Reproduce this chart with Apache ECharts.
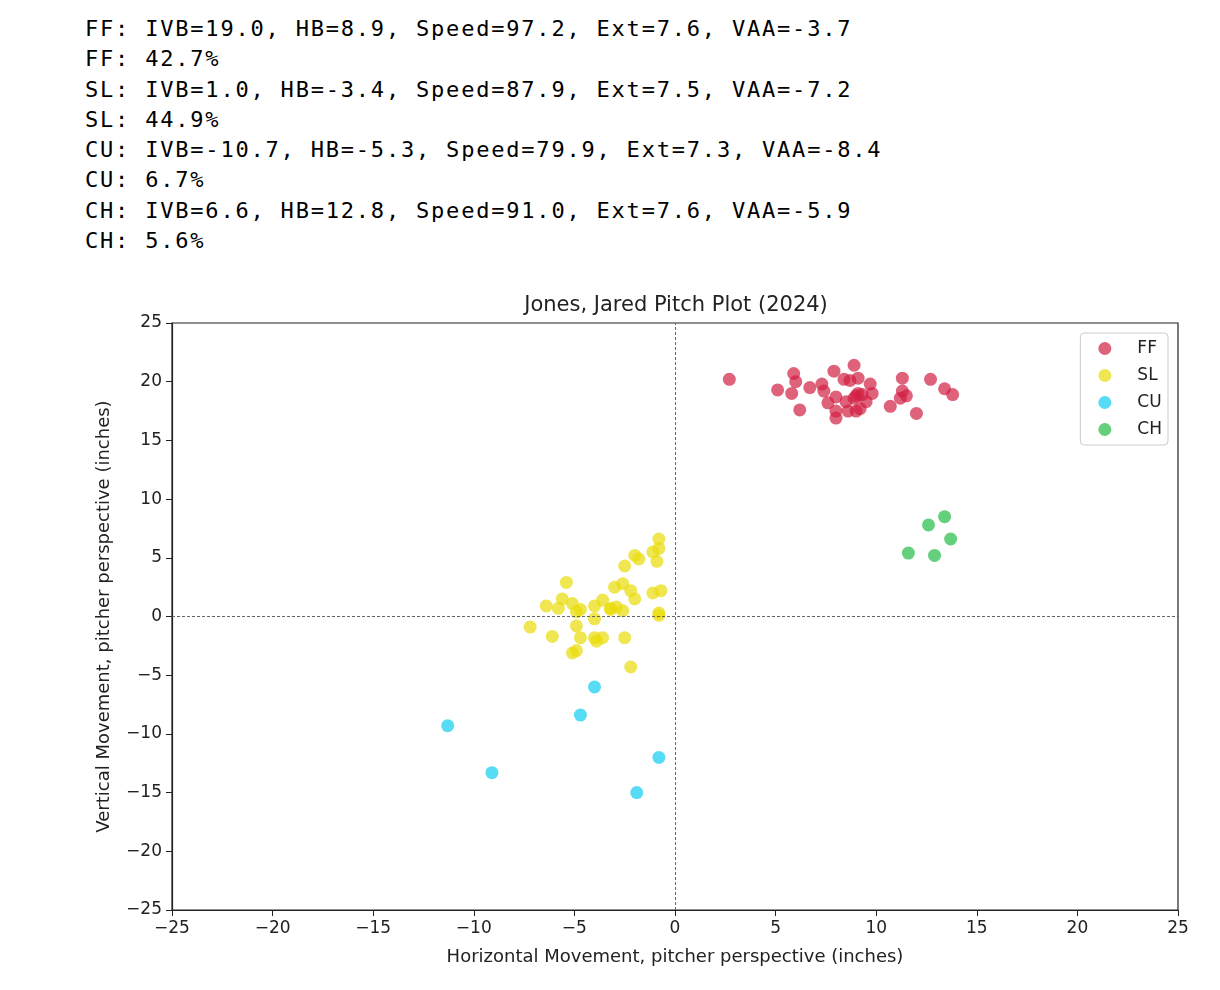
<!DOCTYPE html>
<html>
<head>
<meta charset="utf-8">
<script src="https://cdn.jsdelivr.net/npm/echarts@6/dist/echarts.min.js"></script>
<style>
  body { margin: 0; background: #fff; }
  #summary {
    position: absolute; left: 85px; top: 14px; margin: 0;
    font-family: "DejaVu Sans Mono", monospace; font-size: 22px; letter-spacing: 1.8px;
    line-height: 30.3px; color: #000;
  }
  #chart { position: absolute; left: 0; top: 0; width: 1220px; height: 990px; }
</style>
</head>
<body>
<pre id="summary"></pre>
<div id="chart"></div>
<script>
// summary lines printed above the plot
const summaryLines = [
  'FF: IVB=19.0, HB=8.9, Speed=97.2, Ext=7.6, VAA=-3.7',
  'FF: 42.7%',
  'SL: IVB=1.0, HB=-3.4, Speed=87.9, Ext=7.5, VAA=-7.2',
  'SL: 44.9%',
  'CU: IVB=-10.7, HB=-5.3, Speed=79.9, Ext=7.3, VAA=-8.4',
  'CU: 6.7%',
  'CH: IVB=6.6, HB=12.8, Speed=91.0, Ext=7.6, VAA=-5.9',
  'CH: 5.6%'
]

const pitchTypes = ['FF', 'SL', 'CU', 'CH']
const pitchColors = ['#d21f43', '#e8dc08', '#10cdf2', '#22bb44']

// [horizontal break, induced vertical break]
const ffPoints = [
  [2.7, 20.2], [5.1, 19.3], [5.9, 20.7], [6.0, 20.0], [5.8, 19.0], [6.2, 17.6],
  [6.7, 19.5], [7.3, 19.8], [7.4, 19.2], [7.9, 20.9], [7.6, 18.2], [8.0, 18.7],
  [8.0, 17.5], [8.0, 16.9], [8.4, 20.2], [8.7, 20.1], [8.9, 21.4], [9.1, 20.3],
  [8.5, 18.3], [8.6, 17.5], [9.1, 19.0], [9.3, 18.9], [9.5, 18.3], [9.0, 17.5],
  [9.2, 17.7], [9.7, 19.8], [9.8, 19.0], [10.7, 17.9], [11.3, 20.3], [11.3, 19.2],
  [11.2, 18.6], [11.5, 18.8], [12.0, 17.3], [12.7, 20.2], [13.4, 19.4], [13.8, 18.9],
  [9.0, 18.8], [8.9, 18.6]
]
const slPoints = [
  [-0.8, 6.6], [-1.1, 5.5], [-0.8, 5.8], [-0.9, 4.7], [-2.0, 5.2], [-1.8, 4.9],
  [-2.5, 4.3], [-5.4, 2.9], [-3.0, 2.5], [-2.6, 2.8], [-2.2, 2.2], [-2.0, 1.5],
  [-1.1, 2.0], [-0.7, 2.2], [-5.6, 1.5], [-6.4, 0.9], [-5.8, 0.7], [-5.1, 1.1],
  [-4.7, 0.6], [-4.0, 0.9], [-3.6, 1.4], [-3.2, 0.7], [-3.2, 0.6], [-2.9, 0.8],
  [-2.6, 0.5], [-0.8, 0.3], [-0.8, 0.1], [-7.2, -0.9], [-4.9, -0.8], [-4.0, -0.2],
  [-6.1, -1.7], [-4.7, -1.8], [-4.0, -1.8], [-3.9, -2.1], [-3.6, -1.8], [-2.5, -1.8],
  [-5.1, -3.1], [-4.9, -2.9], [-2.2, -4.3], [-4.9, 0.4]
]
const cuPoints = [
  [-11.3, -9.3], [-9.1, -13.3], [-4.0, -6.0], [-4.7, -8.4], [-1.9, -15.0], [-0.8, -12.0]
]
const chPoints = [
  [11.6, 5.4], [12.6, 7.8], [12.9, 5.2], [13.4, 8.5], [13.7, 6.6]
]
const pitchData = [ffPoints, slPoints, cuPoints, chPoints]

document.getElementById('summary').textContent = summaryLines.join('\n')

const font = 'DejaVu Sans'
const minus = v => String(v).replace('-', '\u2212')

const series = pitchTypes.map((name, i) => ({
  name: name,
  type: 'scatter',
  data: pitchData[i],
  symbolSize: 13,
  itemStyle: { color: pitchColors[i], opacity: 0.7 },
  emphasis: { disabled: true }
}))
// dashed zero lines
series[0].markLine = {
  silent: true,
  symbol: 'none',
  label: { show: false },
  lineStyle: { color: '#555', type: [3, 2], width: 0.9 },
  data: [{ xAxis: 0 }, { yAxis: 0 }]
}

const axisCommon = {
  type: 'value', min: -25, max: 25, interval: 5,
  nameLocation: 'middle',
  nameTextStyle: { fontFamily: font, fontSize: 18, color: '#222' },
  splitLine: { show: false },
  axisLine: { onZero: false, lineStyle: { color: '#222', width: 1.2 } },
  axisTick: { show: true, length: 6, lineStyle: { color: '#222' } },
  axisLabel: { fontFamily: font, fontSize: 17, color: '#222', margin: 10, formatter: minus }
}

const chart = echarts.init(document.getElementById('chart'))
chart.setOption({
  animation: false,
  title: {
    text: 'Jones, Jared Pitch Plot (2024)',
    left: 671, top: 290, textAlign: 'center',
    textStyle: { fontFamily: font, fontWeight: 'normal', fontSize: 21, color: '#222' }
  },
  legend: {
    data: pitchTypes,
    orient: 'vertical',
    right: 52, top: 333,
    padding: [7, 6, 7, 18],
    itemGap: 10,
    itemWidth: 13, itemHeight: 13,
    icon: 'circle',
    borderColor: '#ccc', borderWidth: 1, borderRadius: 4,
    textStyle: { fontFamily: font, fontSize: 17, color: '#222', padding: [0, 0, 0, 21] }
  },
  grid: {
    left: 172, top: 323, width: 1006, height: 587,
    show: true, borderColor: '#222', borderWidth: 1.2, backgroundColor: 'transparent'
  },
  xAxis: Object.assign({}, axisCommon, {
    name: 'Horizontal Movement, pitcher perspective (inches)',
    nameGap: 38
  }),
  yAxis: Object.assign({}, axisCommon, {
    name: 'Vertical Movement, pitcher perspective (inches)',
    nameGap: 59
  }),
  series: series
})
</script>
</body>
</html>
